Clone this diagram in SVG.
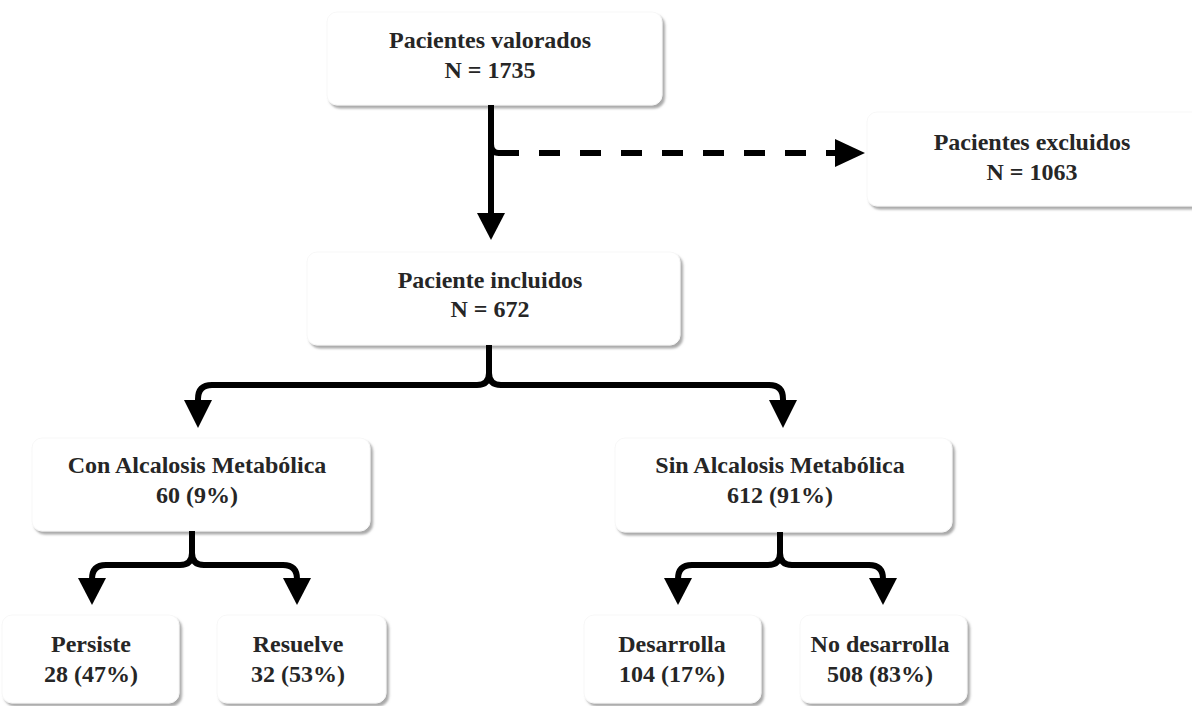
<svg xmlns="http://www.w3.org/2000/svg" width="1192" height="706" viewBox="0 0 1192 706">
<style>
.box{fill:#fff;stroke:#f7f7f7;stroke-width:1;filter:url(#sh)}
.t{font-family:"Liberation Serif","Times New Roman",serif;font-weight:bold;font-size:24px;fill:#262626;text-anchor:middle}
.ln{fill:none;stroke:#000;stroke-width:6}
.dash{fill:none;stroke:#000;stroke-width:6;stroke-dasharray:21 20}
.ah{fill:#000}
</style>
<defs>
<filter id="sh" x="-5%" y="-10%" width="115%" height="130%">
<feDropShadow dx="2.5" dy="3" stdDeviation="1.2" flood-color="#707070" flood-opacity="0.6"/>
</filter>
</defs>
<rect width="1192" height="706" fill="#fff"/>
<g id="n1"><rect class="box" x="327" y="12" width="335" height="93" rx="10"/>
<text class="t" x="490" y="48">Pacientes valorados</text><text class="t" x="490" y="78">N = 1735</text></g>
<g id="n2"><rect class="box" x="867" y="112" width="345" height="94" rx="10"/>
<text class="t" x="1032" y="150">Pacientes excluidos</text><text class="t" x="1032" y="180">N = 1063</text></g>
<g id="n3"><rect class="box" x="307" y="252" width="373" height="93" rx="10"/>
<text class="t" x="490" y="288">Paciente incluidos</text><text class="t" x="490" y="317">N = 672</text></g>
<g id="n4"><rect class="box" x="32" y="438" width="338" height="93" rx="10"/>
<text class="t" x="197" y="473">Con Alcalosis Metabólica</text><text class="t" x="197" y="503">60 (9%)</text></g>
<g id="n5"><rect class="box" x="615" y="438" width="337" height="94" rx="10"/>
<text class="t" x="780" y="473">Sin Alcalosis Metabólica</text><text class="t" x="780" y="503">612 (91%)</text></g>
<g id="n6"><rect class="box" x="2" y="615" width="177" height="88" rx="10"/>
<text class="t" x="91" y="652">Persiste</text><text class="t" x="91" y="682">28 (47%)</text></g>
<g id="n7"><rect class="box" x="217" y="615" width="169" height="88" rx="10"/>
<text class="t" x="298" y="652">Resuelve</text><text class="t" x="298" y="682">32 (53%)</text></g>
<g id="n8"><rect class="box" x="584" y="615" width="177" height="88" rx="10"/>
<text class="t" x="672" y="652">Desarrolla</text><text class="t" x="672" y="682">104 (17%)</text></g>
<g id="n9"><rect class="box" x="800" y="615" width="167" height="88" rx="10"/>
<text class="t" x="880" y="652">No desarrolla</text><text class="t" x="880" y="682">508 (83%)</text></g>
<g id="connectors">
<path class="ln" d="M491,105 L491,215"/>
<polygon class="ah" points="477,213 505,213 491,240"/>
<path class="ln" d="M491,144 Q491,153 499,153"/>
<path class="dash" d="M498,153 L836,153"/>
<polygon class="ah" points="835,139 835,167 865,153"/>
<path class="ln" d="M489,345 L489,373 Q489,385 477,385 L212,385 Q198,385 198,399 L198,402"/>
<path class="ln" d="M489,373 Q489,385 501,385 L769,385 Q783,385 783,399 L783,402"/>
<polygon class="ah" points="184,400 212,400 198,428"/>
<polygon class="ah" points="769,400 797,400 783,428"/>
<path class="ln" d="M192,531 L192,553 Q192,565 180,565 L106,565 Q92,565 92,579 L92,580"/>
<path class="ln" d="M192,553 Q192,565 204,565 L283,565 Q297,565 297,579 L297,580"/>
<polygon class="ah" points="78,578 106,578 92,605"/>
<polygon class="ah" points="283,578 311,578 297,605"/>
<path class="ln" d="M780,532 L780,553 Q780,565 768,565 L692,565 Q678,565 678,579 L678,580"/>
<path class="ln" d="M780,553 Q780,565 792,565 L869,565 Q883,565 883,579 L883,580"/>
<polygon class="ah" points="664,578 692,578 678,605"/>
<polygon class="ah" points="869,578 897,578 883,605"/>
</g>
</svg>
